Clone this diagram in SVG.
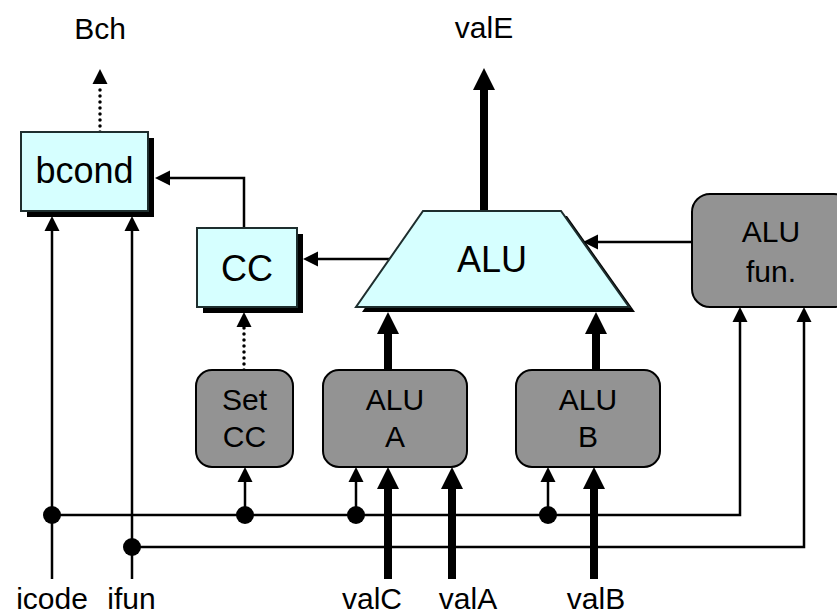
<svg xmlns="http://www.w3.org/2000/svg" width="837" height="615" viewBox="0 0 837 615">
<defs>
<style>
text{font-family:"Liberation Sans",Arial,sans-serif;fill:#000;text-anchor:middle}
.lbl{font-size:30px}
.big{font-size:36px}
.mid{font-size:30px}
.blue{fill:#d6ffff;stroke:#1e2e2e;stroke-width:2}
.gray{fill:#939393;stroke:#000;stroke-width:2}
.shadow{fill:#000}
.thin{fill:none;stroke:#000;stroke-width:2.5;marker-end:url(#ah)}
.thick{fill:none;stroke:#000;stroke-width:8;marker-end:url(#ahb)}
.dot{fill:none;stroke:#000;stroke-width:3.5;stroke-linecap:round;stroke-dasharray:0 6;marker-end:url(#ah)}
.jn{fill:#000}
</style>
<marker id="ah" markerUnits="userSpaceOnUse" markerWidth="16" markerHeight="16" viewBox="0 -8 16 16" refX="0" refY="0" orient="auto" overflow="visible"><path d="M0,-7.5 L15,0 L0,7.5 z" fill="#000"/></marker>
<marker id="ahb" markerUnits="userSpaceOnUse" markerWidth="24" markerHeight="24" viewBox="0 -12 24 24" refX="0" refY="0" orient="auto" overflow="visible"><path d="M0,-11 L22,0 L0,11 z" fill="#000"/></marker>
</defs>

<g id="labels">
<text class="lbl" x="100" y="39">Bch</text>
<text class="lbl" x="484" y="38">valE</text>
<text class="lbl" x="52" y="609">icode</text>
<text class="lbl" x="131.5" y="609">ifun</text>
<text class="lbl" x="372" y="609">valC</text>
<text class="lbl" x="468" y="609">valA</text>
<text class="lbl" x="596" y="609">valB</text>
</g>

<g id="connectors">
<path class="dot" d="M100,132 L100,84"/>
<path class="dot" d="M244,370 L244,327"/>
<path class="thin" d="M244,228 L244,178 L170,178"/>
<path class="thin" d="M390,259 L318,259"/>
<path class="thin" d="M692,242 L598,242"/>
<path class="thick" d="M484,211 L484,90"/>
<path class="thick" d="M388,370 L388,334"/>
<path class="thick" d="M596,370 L596,334"/>
<path class="thick" d="M388,579 L388,489"/>
<path class="thick" d="M452,579 L452,489"/>
<path class="thick" d="M594,579 L594,489"/>
<path class="thin" d="M52,579 L52,231"/>
<path class="thin" d="M132,579 L132,231"/>
<path class="thin" d="M245,515 L245,482"/>
<path class="thin" d="M356,515 L356,482"/>
<path class="thin" d="M548,515 L548,482"/>
<path class="thin" d="M52,515 L740,515 L740,322"/>
<path class="thin" d="M132,547 L804,547 L804,322"/>
<circle class="jn" cx="52" cy="515" r="9"/>
<circle class="jn" cx="245" cy="515" r="9"/>
<circle class="jn" cx="356" cy="515" r="9"/>
<circle class="jn" cx="548" cy="515" r="9"/>
<circle class="jn" cx="132" cy="547" r="9"/>
</g>

<g id="bcond">
<rect class="shadow" x="27" y="138" width="127" height="79"/>
<rect class="blue" x="21" y="132" width="127" height="79"/>
<text class="big" x="84.5" y="183">bcond</text>
</g>

<g id="cc">
<rect class="shadow" x="203" y="234" width="100" height="79"/>
<rect class="blue" x="197" y="228" width="100" height="79"/>
<text class="big" x="247" y="281">CC</text>
</g>

<g id="alu">
<polygon class="shadow" points="429,216 567,216 635,312 362,312"/>
<polygon class="blue" points="423,211 561,211 629,307 356,307"/>
<text class="big" x="492" y="272">ALU</text>
</g>

<g id="alufun">
<rect class="gray" x="692" y="194" width="160" height="113" rx="18"/>
<text class="mid" x="771" y="242">ALU</text>
<text class="mid" x="771" y="282">fun.</text>
</g>

<g id="setcc">
<rect class="gray" x="196" y="370" width="97" height="97" rx="16"/>
<text class="mid" x="244.5" y="410">Set</text>
<text class="mid" x="244.5" y="447">CC</text>
</g>

<g id="alua">
<rect class="gray" x="323" y="370" width="144" height="97" rx="16"/>
<text class="mid" x="395" y="410">ALU</text>
<text class="mid" x="395" y="447">A</text>
</g>

<g id="alub">
<rect class="gray" x="516" y="370" width="144" height="97" rx="16"/>
<text class="mid" x="588" y="410">ALU</text>
<text class="mid" x="588" y="447">B</text>
</g>
</svg>
